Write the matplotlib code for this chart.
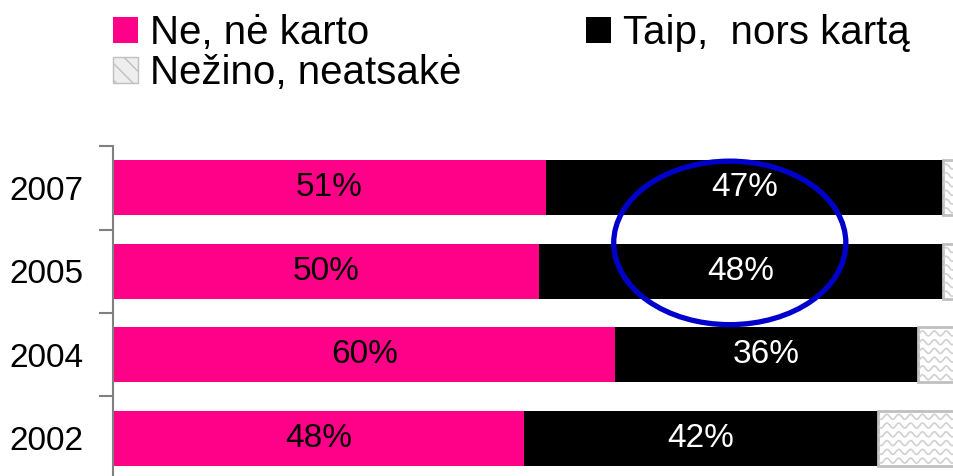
import numpy as np
import matplotlib.pyplot as plt
from matplotlib.patches import Ellipse, Patch

plt.rcParams['font.family'] = ['Liberation Sans', 'DejaVu Sans']

# Duomenys
metai = ['2002', '2004', '2005', '2007']
ne = [48.5, 59.3, 50.3, 51.1]
taip = [41.8, 35.7, 47.7, 46.9]
nezino = [9.7, 5.0, 2.0, 2.0]
ne_lab = ['48%', '60%', '50%', '51%']
taip_lab = ['42%', '36%', '48%', '47%']

rozine = '#FF0088'
pilka = '#C0C0C0'

fig = plt.figure(figsize=(9.54, 4.76), dpi=100)
ax = fig.add_axes([0.1185, -0.008, 0.888, 0.701])

y = np.arange(len(metai))
h = 0.66
b1 = ax.barh(y, ne, height=h, color=rozine)
b2 = ax.barh(y, taip, left=ne, height=h, color='black')
kaire3 = np.array(ne) + np.array(taip)
b3 = ax.barh(y, nezino, left=kaire3, height=h, color='white',
             edgecolor=pilka, linewidth=2)

# banguotas rastas treciam segmentui
xs = np.linspace(80, 101, 600)
for bar in b3:
    y0 = bar.get_y()
    for k in np.arange(0.06, h, 0.105):
        ln, = ax.plot(xs, y0 + k + 0.03 * np.sin(xs / 1.4 * 2 * np.pi),
                      color='#D0D0D0', lw=1.2)
        ln.set_clip_path(bar)

for i in range(len(metai)):
    ax.text(ne[i] / 2, y[i], ne_lab[i], ha='center', va='center',
            fontsize=24, color='black')
    ax.text(ne[i] + taip[i] / 2, y[i], taip_lab[i], ha='center', va='center',
            fontsize=24, color='white')

ax.set_xlim(0, 100)
ax.set_ylim(-0.5, 3.5)
ax.set_yticks(y)
ax.set_yticklabels(metai, fontsize=24)
ax.set_yticks(np.arange(-0.5, 3.6, 1), minor=True)
ax.tick_params(axis='y', which='major', length=0, pad=21.5)
ax.tick_params(axis='y', which='minor', length=10, color='#808080', width=1.5)
ax.set_xticks([])
for s in ['top', 'right', 'bottom']:
    ax.spines[s].set_visible(False)
ax.spines['left'].set_color('#808080')
ax.spines['left'].set_linewidth(1.5)

# melynas apskritimas
ax.add_patch(Ellipse((72.8, 2.34), 27.4, 1.96, fill=False, edgecolor='#0000CC',
                     linewidth=3.8, clip_on=False))

ranks = [Patch(facecolor=rozine),
         Patch(facecolor='#EEEEEE', edgecolor=pilka, hatch='\\\\'),
         Patch(facecolor='black')]
fig.legend(ranks, ['Ne, nė karto', 'Nežino, neatsakė', 'Taip,  nors kartą'],
           ncol=2, loc='upper left', bbox_to_anchor=(0.102, 1.005),
           fontsize=29, frameon=False, handlelength=0.62, handleheight=0.62,
           handletextpad=0.3, columnspacing=3.08, labelspacing=0.05,
           borderaxespad=0)

fig.savefig('out.png', dpi=100)
